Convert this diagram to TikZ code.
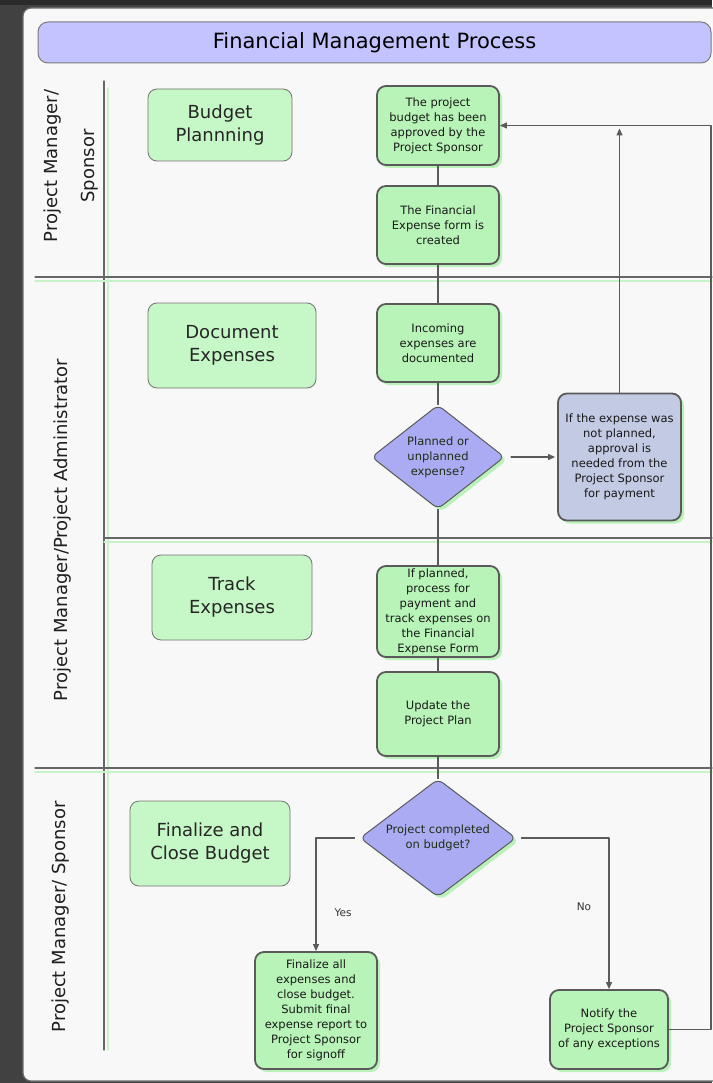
\documentclass[tikz,border=0pt]{standalone}
\usepackage{fontspec}
\setmainfont{DejaVu Sans}
\usetikzlibrary{shapes.geometric,shadows,arrows.meta}

\definecolor{bgdark}{HTML}{414141}
\definecolor{bgtop}{HTML}{2A2A2A}
\definecolor{panel}{HTML}{F8F8F8}
\definecolor{edge}{HTML}{5A5A5A}
\definecolor{titlefill}{HTML}{C3C3FF}
\definecolor{phasefill}{HTML}{C6F7C6}
\definecolor{stepfill}{HTML}{B8F4B8}
\definecolor{shadowgreen}{HTML}{B9F2B9}
\definecolor{decfill}{HTML}{ABABF4}
\definecolor{notefill}{HTML}{C2CAE4}
\definecolor{laneline}{HTML}{666666}
\definecolor{lanegreen}{HTML}{C8F2C8}
\definecolor{dectext}{HTML}{1E2E10}

\begin{document}
\begin{tikzpicture}[x=1pt, y=-1pt, line cap=round, line join=round,
  phase/.style={draw=edge!85, line width=0.8pt, fill=phasefill, rounded corners=9pt,
    align=center, inner sep=0pt, text=black!85, font=\fontsize{18}{23}\selectfont},
  stepbox/.style={draw=edge, line width=1.8pt, fill=stepfill, rounded corners=9pt,
    minimum width=122pt, align=center, inner sep=0pt, text=black!90,
    font=\fontsize{11.5}{15}\selectfont,
    drop shadow={shadow xshift=3pt, shadow yshift=-3pt, fill=shadowgreen, opacity=1}},
  decision/.style={diamond, draw=edge, line width=1pt, fill=decfill, rounded corners=6pt,
    align=center, inner sep=0pt, text=dectext, font=\fontsize{11.5}{15}\selectfont,
    drop shadow={shadow xshift=3pt, shadow yshift=-3pt, fill=shadowgreen, opacity=1}},
  lanelabel/.style={rotate=90, align=center, text=black!88, font=\fontsize{18}{37}\selectfont},
  wire/.style={draw=edge, line width=1.1pt},
  tip/.style={-{Triangle[length=7pt, width=6pt]}}]

% ----------------- Parameters -----------------
\def\midx{438}       % x of the middle column
\def\rimx{711}       % x of the return line on the right
\def\laneL{35}       % left end of the lane separators
\def\laneR{712}      % right end of the lane separators

% ----------------- Page and panel -----------------
\useasboundingbox (0,0) rectangle (712,1083);
\fill[bgdark] (0,0) rectangle (712,1083);
\fill[bgtop] (0,0) rectangle (712,5);
\draw[edge!90, fill=panel, line width=1.2pt, rounded corners=8pt] (23,8) rectangle (760,1081);

% ----------------- Title -----------------
\node[draw=edge!80, line width=1pt, fill=titlefill, rounded corners=10pt,
      minimum width=673pt, minimum height=41pt, font=\fontsize{21}{25}\selectfont]
  (title) at (374.5,42.5) {Financial Management Process};

% ----------------- Lane separators -----------------
\draw[lanegreen, line width=1.4pt] (108,88) -- (108,1050);
\draw[laneline, line width=1.1pt] (104,81) -- (104,1050);
\foreach \ly/\lx in {277/\laneL, 538/104, 768/\laneL} {
  \draw[lanegreen, line width=1.4pt] (\lx,\ly+4) -- (\laneR,\ly+4);
  \draw[laneline, line width=1.1pt] (\lx,\ly) -- (\laneR,\ly);
}

% ----------------- Lane labels -----------------
\node[lanelabel] (laneA) at (71,166) {Project Manager/\\Sponsor};
\node[lanelabel] (laneB) at (63,530) {Project Manager/Project Administrator};
\node[lanelabel] (laneC) at (61,917) {Project Manager/ Sponsor};

% ----------------- Phase boxes -----------------
\node[phase, minimum width=144pt, minimum height=72pt] (budg) at (220,125) {Budget\\Plannning};
\node[phase, minimum width=168pt, minimum height=85pt] (docu) at (232,345.5) {Document\\Expenses};
\node[phase, minimum width=160pt, minimum height=85pt] (trak) at (232,597.5) {Track\\Expenses};
\node[phase, minimum width=160pt, minimum height=85pt] (fnlz) at (210,843.5) {Finalize and\\Close Budget};

% ----------------- Process steps -----------------
\node[stepbox, minimum height=79pt] (appr) at (\midx,125.5)
  {The project\\budget has been\\approved by the\\Project Sponsor};
\node[stepbox, minimum height=78pt] (form) at (\midx,225)
  {The Financial\\Expense form is\\created};
\node[stepbox, minimum height=78pt] (incm) at (\midx,343)
  {Incoming\\expenses are\\documented};
\node[decision, minimum width=133pt, minimum height=104pt, aspect=1.28] (plnd) at (\midx,457)
  {Planned or\\unplanned\\expense?};
\node[stepbox, minimum height=91pt] (trkx) at (\midx,611.5)
  {If planned,\\process for\\payment and\\track expenses on\\the Financial\\Expense Form};
\node[stepbox, minimum height=84pt] (updt) at (\midx,714)
  {Update the\\Project Plan};
\node[decision, minimum width=156pt, minimum height=118pt, aspect=1.32] (cmpl) at (\midx,838)
  {Project completed\\on budget?};

\node[stepbox, fill=notefill, minimum width=123pt, minimum height=127pt] (aprv) at (619.5,457)
  {If the expense was\\not planned,\\approval is\\needed from the\\Project Sponsor\\for payment};
\node[stepbox, minimum height=117pt] (fina) at (316,1010.5)
  {Finalize all\\expenses and\\close budget.\\Submit final\\expense report to\\Project Sponsor\\for signoff};
\node[stepbox, minimum width=118pt, minimum height=79pt] (ntfy) at (609,1029.5)
  {Notify the\\Project Sponsor\\of any exceptions};

% ----------------- Connectors -----------------
\coordinate (rtop) at (\rimx,125.5);

\draw[wire] (appr) -- (form);
\draw[wire] (form) -- (incm);
\draw[wire] (incm) -- (plnd);
\draw[wire] (plnd) -- (trkx);
\draw[wire] (trkx) -- (updt);
\draw[wire] (updt) -- (cmpl);

\draw[wire, tip, shorten <=6pt, shorten >=2pt] (plnd) -- (aprv);
\draw[wire, tip, shorten >=3pt] (aprv) -- (aprv |- appr.east);
\draw[wire, tip] (ntfy.east) -| (rtop) -- (appr.east);

\draw[wire, tip, shorten <=5pt] (cmpl.west) -| (fina.north);
\draw[wire, tip, shorten <=5pt] (cmpl.east) -| (ntfy.north);

% ----------------- Branch labels -----------------
\node[font=\fontsize{10.5}{13}\selectfont, text=black!80] (yes) at (343,913) {Yes};
\node[font=\fontsize{10.5}{13}\selectfont, text=black!80] (no) at (584,907) {No};

\end{tikzpicture}
\end{document}
